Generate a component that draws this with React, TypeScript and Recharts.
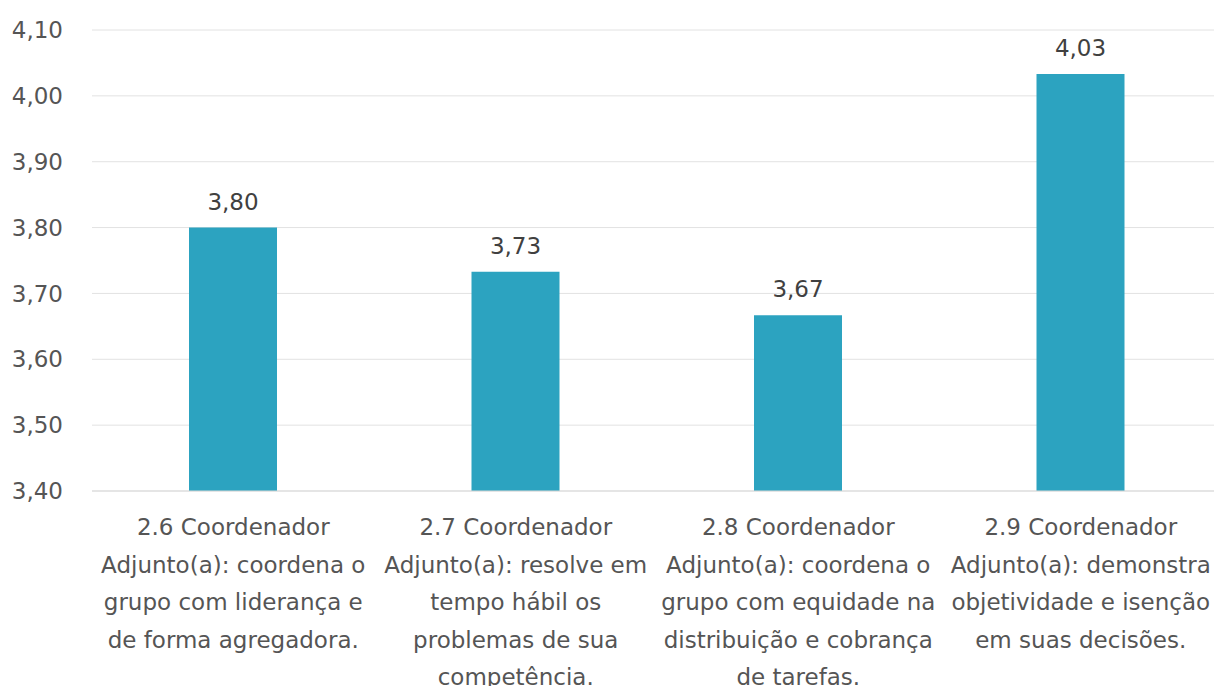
import { BarChart, Bar, XAxis, YAxis, CartesianGrid, LabelList } from "recharts";

const categories = [
  ["2.6 Coordenador", "Adjunto(a): coordena o", "grupo com liderança e", "de forma agregadora."],
  ["2.7 Coordenador", "Adjunto(a): resolve em", "tempo hábil os", "problemas de sua", "competência."],
  ["2.8 Coordenador", "Adjunto(a): coordena o", "grupo com equidade na", "distribuição e cobrança", "de tarefas."],
  ["2.9 Coordenador", "Adjunto(a): demonstra", "objetividade e isenção", "em suas decisões."],
];
const values = [3.8, 3.733, 3.667, 4.033];
const yTicks = [3.4, 3.5, 3.6, 3.7, 3.8, 3.9, 4.0, 4.1];

const FONT = "'DejaVu Sans', sans-serif";
const fmt = (v: number) => v.toFixed(2).replace(".", ",");

const data = categories.map((lines, i) => ({ name: String(i), lines, value: values[i] }));

function CategoryTick(props: any) {
  const { x, y, payload } = props;
  const lines = categories[Number(payload.value)];
  return (
    <g transform={`translate(${x},${y})`}>
      <text textAnchor="middle" fill="#555" fontSize={23} fontFamily={FONT}>
        {lines.map((line, i) => (
          <tspan key={i} x={0} y={36 + i * 37.6}>
            {line}
          </tspan>
        ))}
      </text>
    </g>
  );
}

export default function App() {
  return (
    <div
      style={{
        position: "fixed",
        left: 0,
        top: 0,
        width: 1214,
        height: 686,
        overflow: "hidden",
        background: "#fff",
      }}
    >
      <BarChart
        width={1222}
        height={686}
        data={data}
        margin={{ top: 30, right: 0, left: 0, bottom: 0 }}
      >
        <CartesianGrid vertical={false} stroke="#e2e2e2" />
        <XAxis
          dataKey="name"
          tick={<CategoryTick />}
          tickLine={false}
          axisLine={{ stroke: "#d9d9d9" }}
          height={195}
          interval={0}
        />
        <YAxis
          domain={[3.4, 4.1]}
          ticks={yTicks}
          tickFormatter={fmt}
          width={92}
          axisLine={false}
          tickLine={false}
          tickSize={0}
          tickMargin={29}
          tick={{ fill: "#555", fontSize: 23, fontFamily: FONT }}
        />
        <Bar dataKey="value" fill="#2ca3c0" barSize={88} isAnimationActive={false}>
          <LabelList
            dataKey="value"
            position="top"
            offset={18}
            formatter={(v: any) => fmt(Number(v))}
            fill="#404040"
            fontSize={23}
            fontFamily={FONT}
          />
        </Bar>
      </BarChart>
    </div>
  );
}
